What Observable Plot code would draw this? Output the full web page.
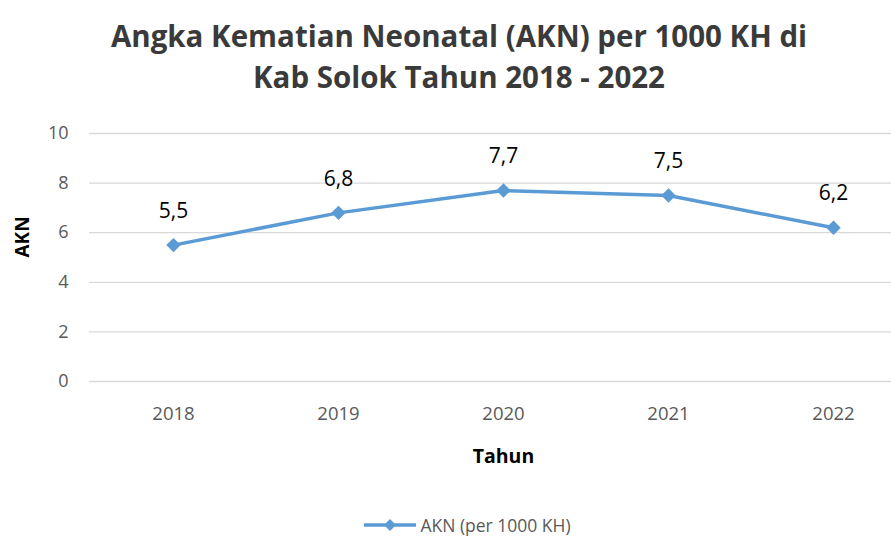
<!DOCTYPE html>
<html>
<head>
<meta charset="utf-8">
<script src="https://cdn.jsdelivr.net/npm/d3@7"></script>
<script src="https://cdn.jsdelivr.net/npm/@observablehq/plot@0.6"></script>
<style>
  html, body { margin: 0; padding: 0; background: #fff; }
  body { width: 891px; height: 559px; overflow: hidden; font-family: "Open Sans", sans-serif; }
  #title { height: 105px; padding-top: 15px; box-sizing: border-box; text-align: center; font-weight: bold; font-size: 29.5px; line-height: 41px; color: #3a3a3a; padding-left: 27px; white-space: nowrap; }
  #legend { display: flex; align-items: center; justify-content: center; padding-top: 38px; padding-left: 44px; font-size: 17.5px; color: #595959; }
  #legend svg { margin-right: 4px; }
</style>
</head>
<body>
<div id="title">Angka Kematian Neonatal (AKN) per 1000 KH di<br>Kab Solok Tahun 2018 - 2022</div>
<div id="chart"></div>
<div id="legend"></div>
<script>
const years = ["2018", "2019", "2020", "2021", "2022"];
const akn = [5.5, 6.8, 7.7, 7.5, 6.2];
const yTicks = [0, 2, 4, 6, 8, 10];
const seriesName = "AKN (per 1000 KH)";
const xTitle = "Tahun";
const yTitle = "AKN";

const color = "#5B9BD5";
const data = years.map((y, i) => ({year: y, value: akn[i]}));
const fmt = v => d3.format(".1f")(v).replace(".", ",");

const chart = Plot.plot({
  width: 891,
  height: 370,
  marginLeft: 89,
  marginRight: 0,
  marginTop: 28,
  marginBottom: 94,
  style: {fontFamily: "Open Sans, sans-serif", background: "white"},
  x: {type: "point", domain: years, range: [172, 834], padding: 0},
  y: {domain: [0, 10]},
  marks: [
    Plot.ruleY(yTicks, {stroke: "#d9d9d9", strokeWidth: 1.3}),
    Plot.axisY({ticks: yTicks, tickSize: 0, tickPadding: 21, fontSize: 18, fill: "#595959", label: null}),
    Plot.axisX({tickSize: 0, tickPadding: 25, fontSize: 18.5, fill: "#595959", label: null}),
    Plot.text([yTitle], {frameAnchor: "left", rotate: -90, dx: -67, fontSize: 19, fontWeight: "bold", fill: "#000"}),
    Plot.text([xTitle], {frameAnchor: "bottom", dx: 13, dy: 81, fontSize: 19.5, fontWeight: "bold", fill: "#000"}),
    Plot.line(data, {x: "year", y: "value", stroke: color, strokeWidth: 3.5}),
    Plot.dot(data, {x: "year", y: "value", symbol: "diamond2", r: 6.5, fill: color, stroke: "none"}),
    Plot.text(data, {x: "year", y: "value", text: d => fmt(d.value), dy: -34, fontSize: 21, fill: "#000"})
  ]
});
document.getElementById("chart").appendChild(chart);

const leg = document.getElementById("legend");
const ls = d3.create("svg").attr("width", 52).attr("height", 16);
ls.append("line").attr("x1", 0).attr("x2", 52).attr("y1", 8).attr("y2", 8).attr("stroke", color).attr("stroke-width", 3.5);
ls.append("path").attr("d", d3.symbol(d3.symbolDiamond2, 90)()).attr("transform", "translate(26,8)").attr("fill", color);
leg.appendChild(ls.node());
const lt = document.createElement("span");
lt.textContent = seriesName;
leg.appendChild(lt);
</script>
</body>
</html>
